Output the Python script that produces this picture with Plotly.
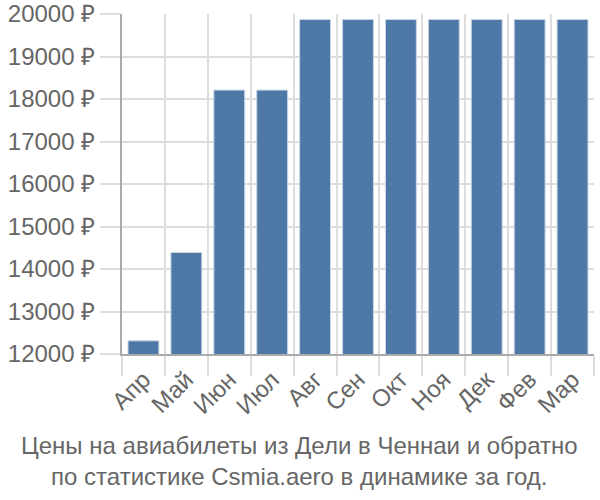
import plotly.graph_objects as go

months = ["Апр", "Май", "Июн", "Июл", "Авг", "Сен", "Окт", "Ноя", "Дек", "Фев", "Мар"]
prices = [12310, 14390, 18210, 18210, 19870, 19870, 19870, 19870, 19870, 19870, 19870]
title_lines = ["Цены на авиабилеты из Дели в Ченнаи и обратно",
               "по статистике Csmia.aero в динамике за год."]

fig = go.Figure(go.Bar(
    x=months, y=prices,
    marker=dict(color="#4e79a7", line=dict(color="#c9d6e6", width=1)),
))

font = "Liberation Sans, Arial, sans-serif"
fs = 24
fig.update_layout(
    width=600, height=500,
    margin=dict(l=122, r=6, t=14, b=146),
    paper_bgcolor="white", plot_bgcolor="white",
    bargap=0.28,
    showlegend=False,
    font=dict(family=font, size=fs, color="#666666"),
    annotations=[dict(
        text="<br>".join(title_lines), xref="paper", yref="paper",
        x=0.377, y=-0.315, xanchor="center", yanchor="middle",
        showarrow=False, font=dict(family=font, size=fs, color="#666666"),
    )],
)
fig.update_xaxes(
    automargin=False,
    tickangle=-45, tickson="boundaries", ticks="outside", ticklen=20,
    tickcolor="#dddddd", tickwidth=2,
    showgrid=True, gridcolor="#dddddd", gridwidth=2,
    showline=True, linecolor="#aaaaaa", linewidth=2,
    tickfont=dict(size=fs, color="#666666"),
)
fig.update_yaxes(
    automargin=False,
    range=[12000, 20000], dtick=1000, tickformat="d", ticksuffix=" ₽",
    ticks="outside", ticklen=20, tickcolor="#dddddd", tickwidth=2,
    showgrid=True, gridcolor="#dddddd", gridwidth=2,
    showline=True, linecolor="#aaaaaa", linewidth=2,
    zeroline=False,
    tickfont=dict(size=fs, color="#666666"),
)
fig.write_html("out.html")
